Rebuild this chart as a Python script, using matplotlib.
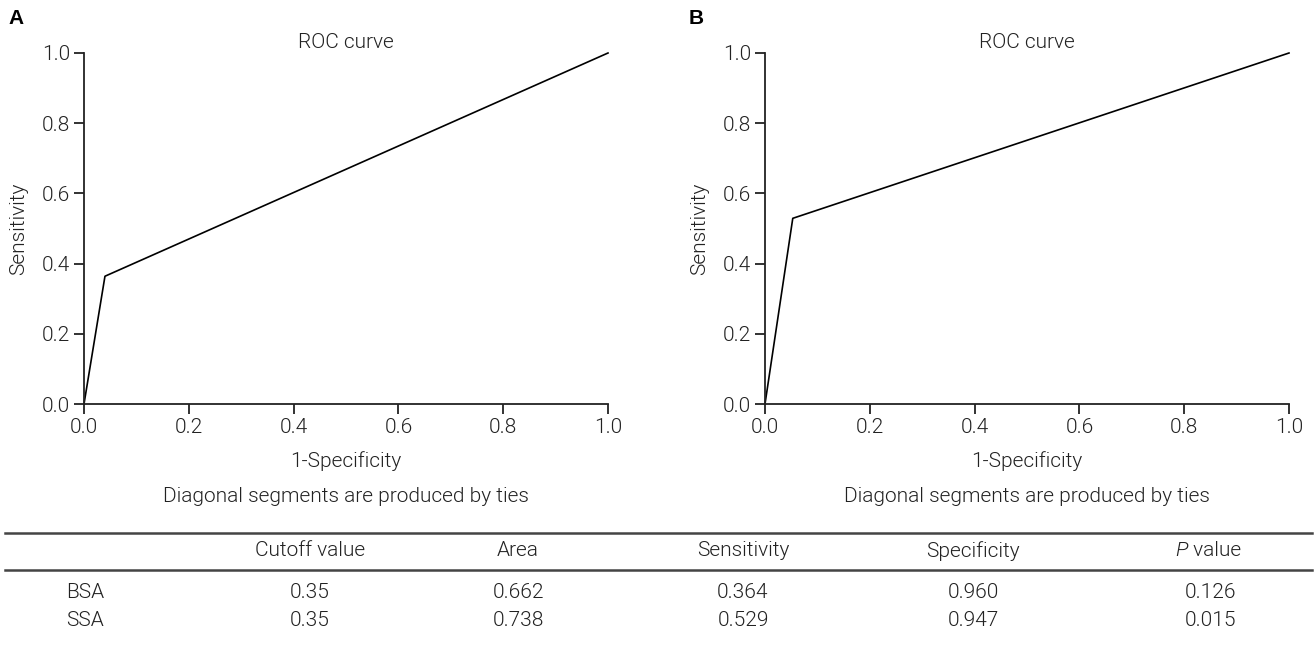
import matplotlib
matplotlib.use('Agg')
import matplotlib.pyplot as plt
from matplotlib.lines import Line2D

plt.rcParams['font.family'] = ['Roboto', 'DejaVu Sans']
plt.rcParams['font.weight'] = 300
plt.rcParams['axes.labelweight'] = 300

# ROC points (1-specificity, sensitivity)
fpr_a = [0.0, 0.04, 1.0]
tpr_a = [0.0, 0.364, 1.0]
fpr_b = [0.0, 0.053, 1.0]
tpr_b = [0.0, 0.529, 1.0]

ticks = [0.0, 0.2, 0.4, 0.6, 0.8, 1.0]

col_labels = ['', 'Cutoff value', 'Area', 'Sensitivity', 'Specificity', 'P value']
row_names = ['BSA', 'SSA']
cutoff = ['0.35', '0.35']
area = ['0.662', '0.738']
sens = ['0.364', '0.529']
spec = ['0.960', '0.947']
pval = ['0.126', '0.015']

W, H = 1315, 648
FS = 15
TXT = '#222222'
fig = plt.figure(figsize=(W / 100, H / 100), dpi=100)


def panel(left, fpr, tpr, letter, lx):
    ax = fig.add_axes([left / W, 1 - 404 / H, 524 / W, 351 / H])
    ax.plot(fpr, tpr, color='black', lw=1.2, clip_on=False)
    ax.set_xlim(0, 1)
    ax.set_ylim(0, 1)
    ax.set_xticks(ticks)
    ax.set_yticks(ticks)
    ax.set_xticklabels(['%.1f' % t for t in ticks])
    ax.set_yticklabels(['%.1f' % t for t in ticks])
    for s in ['top', 'right']:
        ax.spines[s].set_visible(False)
    for s in ['left', 'bottom']:
        ax.spines[s].set_linewidth(1.3)
        ax.spines[s].set_color(TXT)
    ax.tick_params(direction='out', length=7, width=1.3, color=TXT,
                   labelsize=FS, labelcolor=TXT, pad=3)
    ax.set_xlabel('1-Specificity', fontsize=FS, fontweight=300, labelpad=10, color=TXT)
    ax.set_ylabel('Sensitivity', fontsize=FS, fontweight=300, labelpad=10, color=TXT)
    cx = (left + 262) / W
    fig.text(cx, 1 - 42 / H, 'ROC curve', ha='center', va='center', fontsize=FS, color=TXT)
    fig.text(cx, 1 - 497 / H, 'Diagonal segments are produced by ties',
             ha='center', va='center', fontsize=FS, color=TXT)
    fig.text(lx / W, 1 - 18 / H, letter, ha='left', va='center', fontsize=15,
             fontweight='bold', family=['Liberation Sans', 'DejaVu Sans'])
    return ax


panel(84, fpr_a, tpr_a, 'A', 8)
panel(765, fpr_b, tpr_b, 'B', 689)

# table
col_x = [85, 310, 518, 743, 973, 1210]
for yl in [533, 570]:
    fig.add_artist(Line2D([5 / W, 1312 / W], [1 - yl / H, 1 - yl / H],
                          color='#444444', lw=1.8, transform=fig.transFigure))

for i, lab in enumerate(col_labels):
    if lab == 'P value':
        # italic P followed by plain " value"
        tp = fig.text((col_x[i] - 22) / W, 1 - 551 / H, 'P', ha='right', va='center',
                      fontsize=FS, color=TXT, style='italic')
        fig.text((col_x[i] - 22) / W, 1 - 551 / H, ' value', ha='left', va='center',
                 fontsize=FS, color=TXT)
    else:
        fig.text(col_x[i] / W, 1 - 551 / H, lab, ha='center', va='center',
                 fontsize=FS, color=TXT)

rows = list(zip(row_names, cutoff, area, sens, spec, pval))
for r, yy in zip(rows, [593, 621]):
    for i, v in enumerate(r):
        fig.text(col_x[i] / W, 1 - yy / H, v, ha='center', va='center',
                 fontsize=FS, color=TXT)

fig.savefig('out.png', dpi=100)
